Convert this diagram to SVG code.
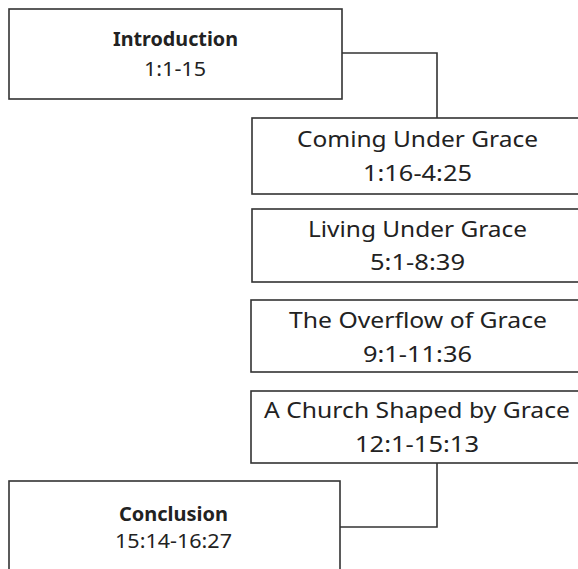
<svg xmlns="http://www.w3.org/2000/svg" width="578" height="569" viewBox="0 0 578 569">
<style>
.box{fill:#fff;stroke:#333;stroke-width:1.6}
.conn{fill:none;stroke:#333;stroke-width:1.6}
text{font-family:"Noto Sans","Open Sans",sans-serif;fill:#222;text-anchor:middle}
.t{font-size:22px}
.b{font-size:20px;font-weight:bold}
.s{font-size:20px}
</style>
<rect width="578" height="569" fill="#fff"/>
<g id="connectors">
<polyline class="conn" points="342,53 437,53 437,118"/>
<polyline class="conn" points="437,463 437,527 340,527"/>
</g>
<g id="intro">
<rect class="box" x="9" y="9" width="333" height="90"/>
<text class="b" x="175.5" y="46" textLength="125" lengthAdjust="spacingAndGlyphs">Introduction</text>
<text class="s" x="175" y="76" textLength="62" lengthAdjust="spacingAndGlyphs">1:1-15</text>
</g>
<g id="coming">
<rect class="box" x="252" y="118" width="330" height="76"/>
<text class="t" x="417.5" y="147" textLength="241" lengthAdjust="spacingAndGlyphs">Coming Under Grace</text>
<text class="t" x="417.5" y="181" textLength="109" lengthAdjust="spacingAndGlyphs">1:16-4:25</text>
</g>
<g id="living">
<rect class="box" x="252" y="209" width="330" height="73"/>
<text class="t" x="417.5" y="237" textLength="219" lengthAdjust="spacingAndGlyphs">Living Under Grace</text>
<text class="t" x="417.5" y="270" textLength="95" lengthAdjust="spacingAndGlyphs">5:1-8:39</text>
</g>
<g id="overflow">
<rect class="box" x="251" y="300" width="331" height="72"/>
<text class="t" x="418" y="328" textLength="258" lengthAdjust="spacingAndGlyphs">The Overflow of Grace</text>
<text class="t" x="417.5" y="362" textLength="109" lengthAdjust="spacingAndGlyphs">9:1-11:36</text>
</g>
<g id="church">
<rect class="box" x="251" y="391" width="331" height="72"/>
<text class="t" x="417" y="418" textLength="306" lengthAdjust="spacingAndGlyphs">A Church Shaped by Grace</text>
<text class="t" x="417" y="452" textLength="124" lengthAdjust="spacingAndGlyphs">12:1-15:13</text>
</g>
<g id="conclusion">
<rect class="box" x="9" y="481" width="331" height="100"/>
<text class="b" x="173.5" y="521" textLength="109" lengthAdjust="spacingAndGlyphs">Conclusion</text>
<text class="s" x="173.5" y="548" textLength="117" lengthAdjust="spacingAndGlyphs">15:14-16:27</text>
</g>
</svg>
